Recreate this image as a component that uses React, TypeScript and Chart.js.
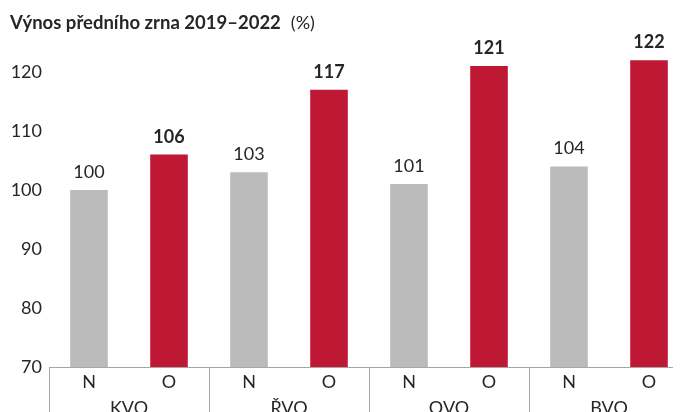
import React, { useEffect, useRef } from 'react';
import { Chart, registerables } from 'chart.js';

Chart.register(...registerables);

const groups = ['KVO', 'ŘVO', 'OVO', 'BVO'];
const subCategories = ['N', 'O'];
const valuesN = [100, 103, 101, 104];
const valuesO = [106, 117, 121, 122];
const yTicks = [70, 80, 90, 100, 110, 120];
const titleBold = 'Výnos předního zrna 2019–2022';
const titleUnit = '(%)';

const GREY = '#BBBBBB';
const RED = '#BE1834';
const TEXT = '#262626';
const LINE = '#A6A6A6';
const FONT = 'Lato';

export default function App() {
  const ref = useRef<HTMLCanvasElement | null>(null);

  useEffect(() => {
    document.body.style.overflow = 'hidden';
    const labels: string[] = [];
    const values: number[] = [];
    const colors: string[] = [];
    groups.forEach((_, i) => {
      labels.push(subCategories[0]);
      values.push(valuesN[i]);
      colors.push(GREY);
      labels.push(subCategories[1]);
      values.push(valuesO[i]);
      colors.push(RED);
    });

    const overlay = {
      id: 'overlay',
      afterDraw(chart: any) {
        const ctx = chart.ctx as CanvasRenderingContext2D;
        const xs = chart.scales.x;
        const area = chart.chartArea;
        ctx.save();
        // title
        ctx.fillStyle = TEXT;
        ctx.textBaseline = 'alphabetic';
        ctx.textAlign = 'left';
        ctx.font = `bold 18.5px ${FONT}`;
        ctx.fillText(titleBold, 2, 21);
        const w = ctx.measureText(titleBold).width;
        ctx.font = `18px ${FONT}`;
        ctx.fillText(titleUnit, 2 + w + 10, 21);

        // value labels
        const meta = chart.getDatasetMeta(0);
        meta.data.forEach((bar: any, i: number) => {
          const isO = i % 2 === 1;
          ctx.font = `${isO ? 'bold ' : ''}18px ${FONT}`;
          ctx.textAlign = 'center';
          ctx.textBaseline = 'alphabetic';
          ctx.fillStyle = TEXT;
          ctx.fillText(String(values[i]), bar.x, bar.y - 12);
        });

        // x labels
        ctx.font = `18px ${FONT}`;
        ctx.textAlign = 'center';
        ctx.textBaseline = 'middle';
        labels.forEach((l, i) => {
          ctx.fillText(l, xs.getPixelForValue(i), area.bottom + 15);
        });
        groups.forEach((g, gi) => {
          const cx = (xs.getPixelForValue(2 * gi) + xs.getPixelForValue(2 * gi + 1)) / 2;
          ctx.fillText(g, cx, area.bottom + 41);
        });

        // separators
        ctx.strokeStyle = LINE;
        ctx.lineWidth = 1;
        for (let gi = 0; gi <= groups.length; gi++) {
          let x: number;
          if (gi === 0) x = area.left;
          else if (gi === groups.length) x = area.right;
          else x = (xs.getPixelForValue(2 * gi - 1) + xs.getPixelForValue(2 * gi)) / 2;
          x = Math.round(x) + 0.5;
          ctx.beginPath();
          ctx.moveTo(x, area.bottom);
          ctx.lineTo(x, chart.height);
          ctx.stroke();
        }
        ctx.restore();
      },
    };

    const chart = new Chart(ref.current as HTMLCanvasElement, {
      type: 'bar',
      data: {
        labels,
        datasets: [
          {
            data: values,
            backgroundColor: colors,
            barPercentage: 0.47,
            categoryPercentage: 1,
          },
        ],
      },
      options: {
        animation: false,
        responsive: false,
        maintainAspectRatio: false,
        layout: { padding: { top: 34.5, right: 0, bottom: 0, left: 0 } },
        plugins: {
          legend: { display: false },
          tooltip: { enabled: false },
          title: { display: false },
        },
        scales: {
          x: {
            grid: { display: false, drawTicks: false },
            border: { display: true, color: LINE, width: 1 },
            ticks: { display: false },
            afterFit: (axis: any) => {
              axis.height = 60;
            },
          },
          y: {
            min: 70,
            max: 125,
            grid: { display: false, drawTicks: false },
            border: { display: false },
            afterBuildTicks: (axis: any) => {
              axis.ticks = yTicks.map((v) => ({ value: v }));
            },
            ticks: {
              color: TEXT,
              font: { family: FONT, size: 18 },
              padding: 7,
            },
            afterFit: (axis: any) => {
              axis.width = 41;
            },
          },
        },
      },
      plugins: [overlay],
    });
    return () => chart.destroy();
  }, []);

  return (
    <div style={{ width: 681, height: 419, position: 'relative' }}>
      <canvas ref={ref} width={681} height={419} style={{ width: 681, height: 419, display: 'block' }} />
    </div>
  );
}
